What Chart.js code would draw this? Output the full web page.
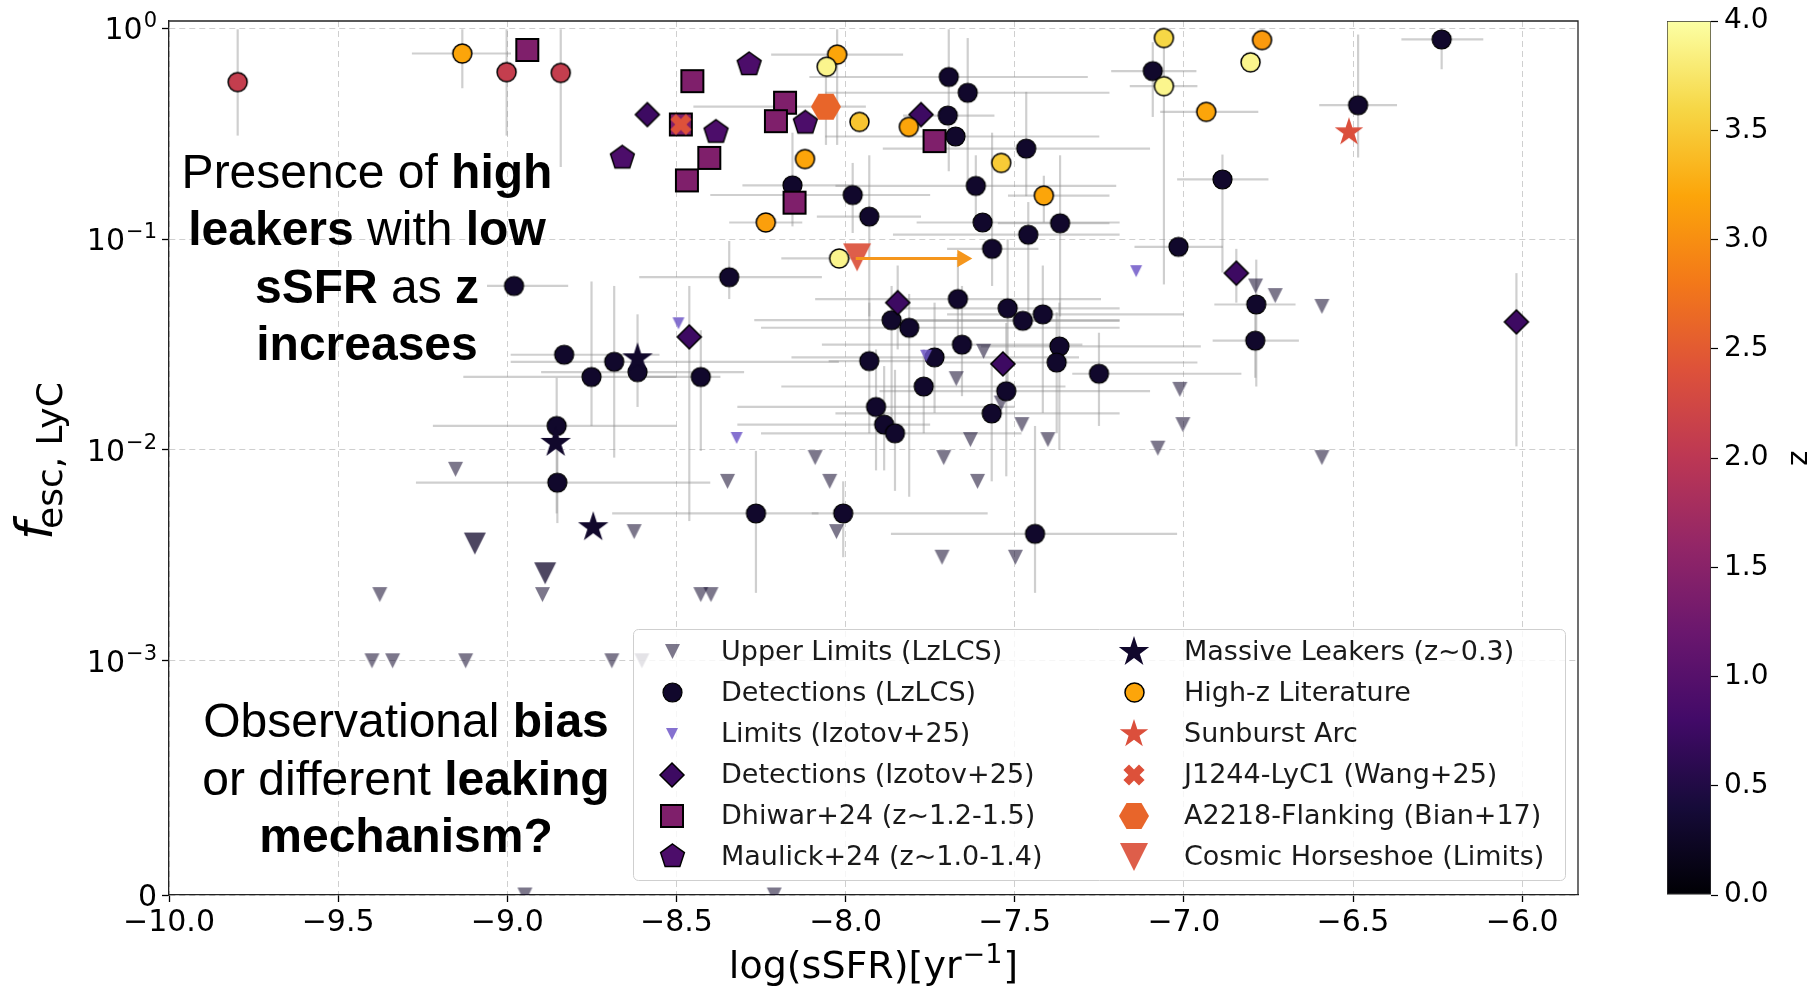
<!DOCTYPE html>
<html>
<head>
<meta charset="utf-8">
<title>fesc vs sSFR</title>
<script src="https://cdn.jsdelivr.net/npm/chart.js"></script>
<style>
  html, body { margin: 0; padding: 0; background: #fff; }
  #wrap { position: relative; width: 1816px; height: 993px; overflow: hidden; }
  canvas { position: absolute; top: 0; }
  #main { left: 0; }
  #cbar { left: 1640px; }
</style>
</head>
<body>
<div id="wrap">
  <canvas id="main" width="1816" height="993"></canvas>
  <canvas id="cbar" width="176" height="993"></canvas>
</div>
<script>
// ---------------- axis / tick values ----------------
const xTickValues = [-10, -9.5, -9, -8.5, -8, -7.5, -7, -6.5, -6];
const yTickValues = [0, 1e-3, 1e-2, 1e-1, 1];
const yTickExponents = [null, '\u22123', '\u22122', '\u22121', '0'];
const zTickValues = [0, 0.5, 1, 1.5, 2, 2.5, 3, 3.5, 4];

// ---------------- Detections (LzLCS), z ~ 0.3 ----------------
const detX = [-8.98, -8.344, -8.157, -7.979, -7.93, -7.695, -7.639, -7.698, -7.675, -7.466, -7.615, -7.366, -7.595, -7.46, -7.567, -7.668, -7.521, -7.417, -7.476, -7.864, -7.812, -7.93, -7.91, -7.886, -7.854, -7.737, -7.656, -7.769, -7.525, -7.568, -7.368, -7.376, -7.251, -7.44, -8.265, -8.007, -8.428, -8.832, -8.751, -8.684, -8.615, -8.854, -8.852, -6.886, -7.016, -7.092, -6.786, -6.789, -6.238, -6.485];
const detY = [0.060, 0.066, 0.18, 0.162, 0.128, 0.588, 0.495, 0.386, 0.307, 0.269, 0.179, 0.119, 0.12, 0.105, 0.090, 0.052, 0.047, 0.044, 0.041, 0.0413, 0.038, 0.0264, 0.016, 0.0132, 0.012, 0.0275, 0.0316, 0.02, 0.019, 0.0149, 0.031, 0.026, 0.023, 0.004, 0.005, 0.005, 0.0222, 0.0283, 0.0222, 0.0262, 0.0234, 0.013, 0.0070, 0.192, 0.092, 0.627, 0.049, 0.033, 0.886, 0.432];
const detXlo = [-9.06, -8.61, -8.305, -8.40, -8.085, -8.107, -8.06, -7.83, -8.06, -7.89, -8.03, -7.55, -7.79, -7.86, -7.70, -8.09, -7.85, -7.7, -7.8, -8.27, -8.25, -8.05, -8.32, -8.32, -8.25, -8.16, -8.07, -8.19, -7.9, -8.03, -7.6, -7.75, -7.33, -7.866, -8.69, -8.1, -8.61, -8.99, -9.13, -8.99, -8.9, -9.22, -9.27, -7.02, -7.146, -7.215, -6.91, -6.915, -6.357, -6.6];
const detXhi = [-8.82, -8.07, -7.98, -7.75, -7.777, -7.284, -7.22, -7.56, -7.25, -7.10, -7.20, -7.22, -7.19, -7.19, -7.43, -7.245, -7.19, -7.0, -7.19, -7.19, -7.19, -7.75, -7.50, -7.75, -7.48, -7.31, -7.3, -7.35, -7.1, -7.19, -6.95, -6.96, -6.83, -7.02, -8.08, -7.58, -8.37, -8.55, -8.5, -8.02, -8.3, -8.5, -8.4, -6.75, -6.885, -6.963, -6.67, -6.66, -6.115, -6.37];
const detYlo = [null, 0.052, 0.115, 0.107, 0.043, 0.21, 0.17, null, null, 0.16, 0.12, 0.043, null, 0.04, 0.06, 0.03, 0.02, 0.015, null, 0.012, 0.006, 0.012, 0.008, 0.008, 0.0064, 0.015, 0.018, 0.012, 0.0075, 0.0071, 0.01, 0.012, 0.013, 0.0021, 0.0021, 0.0031, 0.0099, null, 0.013, 0.0092, 0.016, 0.005, 0.0045, 0.0695, null, 0.38, 0.02, 0.022, 0.64, 0.244];
const detYhi = [null, 0.098, 0.32, 0.23, 0.25, 0.99, 0.9, null, null, 0.5, 0.25, 0.25, null, 0.15, 0.32, 0.085, 0.1, 0.075, null, 0.06, 0.055, 0.05, 0.03, 0.025, 0.024, 0.05, 0.06, 0.03, 0.04, 0.026, 0.05, 0.045, 0.036, 0.013, 0.0099, 0.0071, 0.037, null, 0.063, 0.06, 0.044, 0.022, 0.011, 0.252, null, 0.86, 0.08, 0.045, 1.0, 0.935];

// ---------------- Upper limits (LzLCS) ----------------
const ulX = [-9.153, -9.377, -8.896, -9.40, -9.339, -9.123, -8.691, -8.602, -8.948, -8.211, -8.625, -8.428, -8.398, -8.349, -8.09, -8.047, -8.027, -7.715, -7.498, -7.673, -7.61, -7.71, -7.631, -7.592, -7.479, -7.402, -7.54, -7.077, -7.012, -7.003, -6.788, -6.73, -6.592, -6.592];
const ulY = [0.0081, 0.00206, 0.00206, 0.001, 0.001, 0.001, 0.001, 0.001, 0, 0, 0.0041, 0.00206, 0.00206, 0.0071, 0.0092, 0.0071, 0.0041, 0.0031, 0.0031, 0.0218, 0.0071, 0.0092, 0.0112, 0.0294, 0.0132, 0.0112, 0.0167, 0.0102, 0.0194, 0.0132, 0.060, 0.054, 0.048, 0.0092];

// ---------------- Izotov+25 ----------------
const izoLimX = [-8.494, -8.322, -7.762, -7.141];
const izoLimY = [0.0399, 0.0114, 0.028, 0.0705];
const izoX = [-8.586, -7.777, -8.462, -7.846, -7.535, -6.845, -6.017];
const izoY = [0.39, 0.39, 0.0344, 0.050, 0.0256, 0.069, 0.0405];
const izoYlo = [null, null, 0.0046, 0.03, null, 0.05, 0.0104];
const izoYhi = [null, null, 0.06, 0.075, null, 0.09, 0.069];

// ---------------- Dhiwar+24 / Maulick+24 ----------------
const dhX = [-8.941, -8.487, -8.453, -8.403, -8.469, -8.179, -8.206, -8.151, -7.737];
const dhY = [0.79, 0.35, 0.562, 0.243, 0.19, 0.444, 0.363, 0.149, 0.292];
const maX = [-8.66, -8.285, -8.383, -8.119];
const maY = [0.243, 0.674, 0.322, 0.356];

// ---------------- Massive leakers (z~0.3) ----------------
const mlX = [-8.615, -8.857, -8.746];
const mlY = [0.0272, 0.0108, 0.0043];
const mlLimX = [-9.096, -8.888];
const mlLimY = [0.0036, 0.0026];

// ---------------- High-z literature ----------------
const hzX = [-9.797, -9.133, -9.002, -8.842, -8.025, -8.056, -7.959, -8.12, -8.236, -8.019, -7.813, -7.54, -7.414, -7.059, -7.059, -6.769, -6.803, -6.934];
const hzY = [0.556, 0.76, 0.62, 0.615, 0.751, 0.658, 0.36, 0.240, 0.12, 0.081, 0.341, 0.23, 0.161, 0.90, 0.532, 0.88, 0.69, 0.402];
const hzZ = [2.1, 3.2, 2.1, 2.1, 3.2, 3.9, 3.45, 3.2, 3.15, 3.9, 3.2, 3.5, 3.2, 3.6, 3.9, 3.1, 3.9, 3.2];
const hzXlo = [null, -9.282, null, null, -8.22, null, null, null, -8.344, -8.19, null, null, -7.52, null, -7.16, null, null, -7.07];
const hzXhi = [null, -8.989, null, null, -7.83, null, null, null, -8.128, -7.97, null, null, -7.22, null, -6.96, null, null, -6.78];
const hzYlo = [0.31, 0.52, 0.31, 0.22, 0.28, null, null, null, null, null, null, null, 0.12, null, 0.061, null, null, null];
const hzYhi = [0.99, 0.99, 0.99, 0.99, 0.99, null, null, null, null, null, null, null, 0.2, null, 0.9, null, null, null];

// ---------------- single objects ----------------
const sunburst = { x: -6.512, y: 0.322, z: 2.37 };
const j1244 = { x: -8.487, y: 0.35, z: 2.4 };
const a2218 = { x: -8.058, y: 0.425, z: 2.6, xlo: -8.45, xhi: -7.94, ylo: 0.28, yhi: 0.59 };
const horseshoe = { x: -7.966, y: 0.082, z: 2.38 };
const horseshoeArrowX = [-7.97, -7.655];
const horseshoeArrowY = [0.081, 0.081];

const legendLabels = [
  'Upper Limits (LzLCS)', 'Detections (LzLCS)', 'Limits (Izotov+25)',
  'Detections (Izotov+25)', 'Dhiwar+24 (z~1.2-1.5)', 'Maulick+24 (z~1.0-1.4)',
  'Massive Leakers (z~0.3)', 'High-z Literature', 'Sunburst Arc',
  'J1244-LyC1 (Wang+25)', 'A2218-Flanking (Bian+17)', 'Cosmic Horseshoe (Limits)'
];
const noteHigh = [
  [['Presence of ', 0], ['high', 1]],
  [['leakers', 1], [' with ', 0], ['low', 1]],
  [['sSFR', 1], [' as ', 0], ['z', 1]],
  [['increases', 1]]
];
const noteBias = [
  [['Observational ', 0], ['bias', 1]],
  [['or different ', 0], ['leaking', 1]],
  [['mechanism?', 1]]
];

// ---------------- helpers ----------------
const FONT = '"DejaVu Sans", sans-serif';
const infernoStops = ['#000004', '#160b39', '#420a68', '#6a176e', '#932667', '#bc3754', '#dd513a', '#f37819', '#fca50a', '#f6d746', '#fcffa4'];

function hexRgb(h) {
  return [1, 3, 5].map(i => parseInt(h.slice(i, i + 2), 16));
}
function inferno(t, alpha) {
  const n = infernoStops.length - 1;
  const p = Math.min(Math.max(t, 0), 1) * n;
  const i = Math.min(Math.floor(p), n - 1);
  const f = p - i;
  const a = hexRgb(infernoStops[i]), b = hexRgb(infernoStops[i + 1]);
  const c = a.map((v, k) => Math.round(v + (b[k] - v) * f));
  return alpha == null ? `rgb(${c.join(',')})` : `rgba(${c.join(',')},${alpha})`;
}
const zColor = (z, alpha) => inferno(z / 4, alpha);

// marker images (matplotlib-like shapes)
const markerCache = {};
function marker(shape, r, fill, edge, lw) {
  const key = [shape, r, fill, edge, lw].join('|');
  if (markerCache[key]) return markerCache[key];
  const pad = Math.ceil((lw || 0) + 2);
  const size = Math.ceil(2 * r + 2 * pad);
  const c = document.createElement('canvas');
  c.width = size; c.height = size;
  const g = c.getContext('2d');
  const cx = size / 2, cy = size / 2;
  const poly = (n, start, inner) => {
    const m = inner ? n * 2 : n;
    for (let k = 0; k < m; k++) {
      const ang = start + k * 2 * Math.PI / m;
      const rr = inner && k % 2 ? r * inner : r;
      const px = cx + rr * Math.cos(ang), py = cy + rr * Math.sin(ang);
      k ? g.lineTo(px, py) : g.moveTo(px, py);
    }
    g.closePath();
  };
  g.beginPath();
  switch (shape) {
    case 'circle': g.arc(cx, cy, r, 0, 2 * Math.PI); break;
    case 'square': g.rect(cx - r, cy - r, 2 * r, 2 * r); break;
    case 'diamond': poly(4, -Math.PI / 2); break;
    case 'pentagon': poly(5, -Math.PI / 2); break;
    case 'hexagon': poly(6, 0); break;
    case 'star': poly(5, -Math.PI / 2, 0.382); break;
    case 'tri':
      g.moveTo(cx, cy + r); g.lineTo(cx - r, cy - r); g.lineTo(cx + r, cy - r); g.closePath();
      break;
    case 'x': {
      const w = r * 0.36;
      const pts = [[-w, -r], [w, -r], [w, -w], [r, -w], [r, w], [w, w], [w, r], [-w, r], [-w, w], [-r, w], [-r, -w], [-w, -w]];
      pts.forEach(([px, py], k) => {
        const rx = (px - py) * Math.SQRT1_2, ry = (px + py) * Math.SQRT1_2;
        k ? g.lineTo(cx + rx, cy + ry) : g.moveTo(cx + rx, cy + ry);
      });
      g.closePath();
      break;
    }
  }
  g.fillStyle = fill;
  g.fill();
  if (edge && lw) { g.lineWidth = lw; g.strokeStyle = edge; g.stroke(); }
  markerCache[key] = c;
  return c;
}

const M = {
  upper: marker('tri', 7.5, zColor(0.3, 0.55)),
  det: marker('circle', 9.5, zColor(0.3), '#000', 1.2),
  izoLim: marker('tri', 6, 'rgba(112,88,200,0.85)'),
  izoDet: marker('diamond', 12, zColor(0.75), '#000', 1.5),
  dhiwar: marker('square', 11, zColor(1.4), '#000', 2),
  maulick: marker('pentagon', 12.5, zColor(0.9), '#000', 1.5),
  massive: marker('star', 16, zColor(0.3)),
  massiveLim: marker('tri', 11, zColor(0.3, 0.75)),
  highz: marker('circle', 9.5, zColor(3.2), '#000', 1.5),
  sunburst: marker('star', 15, zColor(sunburst.z)),
  j1244: marker('x', 11, zColor(j1244.z)),
  a2218: marker('hexagon', 15, zColor(a2218.z)),
  horseshoe: marker('tri', 14, zColor(horseshoe.z, 0.92))
};
const legendMarkers = [M.upper, M.det, M.izoLim, M.izoDet, M.dhiwar, M.maulick,
  M.massive, M.highz, M.sunburst, M.j1244, M.a2218, M.horseshoe];

const pts = (xs, ys) => xs.map((x, i) => ({ x, y: ys[i] }));
const errs = (n, xlo, xhi, ylo, yhi) => Array.from({ length: n }, (_, i) => ({
  xlo: xlo ? xlo[i] : null, xhi: xhi ? xhi[i] : null,
  ylo: ylo ? ylo[i] : null, yhi: yhi ? yhi[i] : null
}));
function scatterSet(label, data, style, r, err) {
  return { label, data, pointStyle: style, pointRadius: r, pointHoverRadius: r, err };
}

// ---------------- symlog y scale (linthresh 1e-3, linscale 1) ----------------
const LINTHRESH = 1e-3, LINSCALE = 1 / 0.9;
function symlog(v) {
  return v <= LINTHRESH ? (v / LINTHRESH) * LINSCALE : LINSCALE + Math.log10(v / LINTHRESH);
}
function symexp(t) {
  return t <= LINSCALE ? (t / LINSCALE) * LINTHRESH : LINTHRESH * Math.pow(10, t - LINSCALE);
}
class SymlogScale extends Chart.LinearScale {
  buildTicks() {
    this.start = this.min;
    this.end = this.max;
    return yTickValues.map(v => ({ value: v }));
  }
  getPixelForValue(value) {
    const lo = symlog(this.min), hi = symlog(this.max);
    return this.getPixelForDecimal((symlog(value) - lo) / (hi - lo));
  }
  getValueForPixel(pixel) {
    const lo = symlog(this.min), hi = symlog(this.max);
    return symexp(lo + this.getDecimalForPixel(pixel) * (hi - lo));
  }
}
SymlogScale.id = 'symlog';
SymlogScale.defaults = {};
Chart.register(SymlogScale);

// ---------------- datasets (index 0 is drawn on top) ----------------
const datasets = [
  scatterSet('J1244-LyC1 (Wang+25)', [{ x: j1244.x, y: j1244.y }], M.j1244, 11),
  {
    type: 'line', label: 'arrow', data: pts(horseshoeArrowX, horseshoeArrowY),
    borderColor: '#f5961c', borderWidth: 3, pointStyle: 'triangle', rotation: 90,
    pointRadius: [0, 10], pointBackgroundColor: '#f5961c', pointBorderWidth: 0
  },
  scatterSet('A2218-Flanking (Bian+17)', [{ x: a2218.x, y: a2218.y }], M.a2218, 15,
    [{ xlo: a2218.xlo, xhi: a2218.xhi, ylo: a2218.ylo, yhi: a2218.yhi }]),
  scatterSet('Sunburst Arc', [{ x: sunburst.x, y: sunburst.y }], M.sunburst, 15),
  scatterSet('High-z Literature', pts(hzX, hzY), hzZ.map(z => marker('circle', 9.5, zColor(z), '#000', 1.5)), 9.5,
    errs(hzX.length, hzXlo, hzXhi, hzYlo, hzYhi)),
  scatterSet('Cosmic Horseshoe (Limits)', [{ x: horseshoe.x, y: horseshoe.y }], M.horseshoe, 14),
  scatterSet('Dhiwar+24', pts(dhX, dhY), M.dhiwar, 11),
  scatterSet('Maulick+24', pts(maX, maY), M.maulick, 12.5),
  scatterSet('Detections (Izotov+25)', pts(izoX, izoY), M.izoDet, 12,
    errs(izoX.length, null, null, izoYlo, izoYhi)),
  scatterSet('Massive Leakers', pts(mlX, mlY), M.massive, 16),
  scatterSet('Limits (Izotov+25)', pts(izoLimX, izoLimY), M.izoLim, 6),
  scatterSet('Detections (LzLCS)', pts(detX, detY), M.det, 9.5,
    errs(detX.length, detXlo, detXhi, detYlo, detYhi)),
  scatterSet('Massive Leakers limits', pts(mlLimX, mlLimY), M.massiveLim, 11),
  scatterSet('Upper Limits (LzLCS)', pts(ulX, ulY), M.upper, 7.5)
];

// ---------------- plugins ----------------
const errorBars = {
  id: 'errorBars',
  beforeDatasetsDraw(chart) {
    const { ctx, chartArea: a, scales: { x, y } } = chart;
    ctx.save();
    ctx.beginPath();
    ctx.rect(a.left, a.top, a.width, a.height);
    ctx.clip();
    ctx.strokeStyle = 'rgba(140,140,140,0.42)';
    ctx.lineWidth = 2.2;
    const seg = (x1, y1, x2, y2) => { ctx.beginPath(); ctx.moveTo(x1, y1); ctx.lineTo(x2, y2); ctx.stroke(); };
    chart.data.datasets.forEach(ds => {
      if (!ds.err) return;
      ds.data.forEach((p, i) => {
        const e = ds.err[i];
        const px = x.getPixelForValue(p.x), py = y.getPixelForValue(p.y);
        if (e.xlo != null) seg(x.getPixelForValue(e.xlo), py, x.getPixelForValue(e.xhi), py);
        if (e.ylo != null) seg(px, y.getPixelForValue(e.ylo), px, y.getPixelForValue(e.yhi));
      });
    });
    ctx.restore();
  }
};

function drawRich(ctx, parts, cx, y, size) {
  const fontOf = b => (b ? 'bold ' : '') + size + 'px "Liberation Sans", Arial, sans-serif';
  let w = 0;
  parts.forEach(([t, b]) => { ctx.font = fontOf(b); w += ctx.measureText(t).width; });
  let x = cx - w / 2;
  parts.forEach(([t, b]) => {
    ctx.font = fontOf(b);
    ctx.fillText(t, x, y);
    x += ctx.measureText(t).width;
  });
}

const extras = {
  id: 'extras',
  afterDatasetsDraw(chart) {
    const { ctx, chartArea: a } = chart;
    ctx.save();
    // top and right spines
    ctx.strokeStyle = '#222';
    ctx.lineWidth = 1.3;
    ctx.beginPath();
    ctx.moveTo(a.left, a.top); ctx.lineTo(a.right, a.top); ctx.lineTo(a.right, a.bottom);
    ctx.stroke();
    // annotations
    ctx.fillStyle = '#000';
    ctx.textBaseline = 'alphabetic';
    ctx.textAlign = 'left';
    noteHigh.forEach((line, i) => drawRich(ctx, line, 367, 188 + i * 57.3, 48));
    noteBias.forEach((line, i) => drawRich(ctx, line, 406, 737 + i * 57.5, 48));
    ctx.restore();
  },
  afterDraw(chart) {
    const { ctx, chartArea: a, scales } = chart;
    ctx.save();
    // legend box
    const bx = 633.5, by = 629.5, bw = 932, bh = 251;
    ctx.beginPath();
    if (ctx.roundRect) ctx.roundRect(bx, by, bw, bh, 5); else ctx.rect(bx, by, bw, bh);
    ctx.fillStyle = 'rgba(255,255,255,0.8)';
    ctx.fill();
    ctx.strokeStyle = '#cfcfcf';
    ctx.lineWidth = 1;
    ctx.stroke();
    ctx.font = '27px ' + FONT;
    ctx.textBaseline = 'middle';
    ctx.textAlign = 'left';
    legendLabels.forEach((t, i) => {
      const col = i < 6 ? 0 : 1, row = i % 6;
      const mx = col ? 1134 : 672, tx = col ? 1184 : 721, y = 651.5 + row * 41;
      const m = legendMarkers[i];
      ctx.drawImage(m, Math.round(mx - m.width / 2), Math.round(y - m.height / 2));
      ctx.fillStyle = '#1a1a1a';
      ctx.fillText(t, tx, y + 1);
    });

    // y tick labels with real superscripts (positions from the y scale)
    ctx.fillStyle = '#000';
    ctx.textBaseline = 'alphabetic';
    ctx.textAlign = 'left';
    const right = a.left - 12;
    yTickValues.forEach((v, i) => {
      const py = scales.y.getPixelForValue(v);
      const exp = yTickExponents[i];
      const base = exp == null ? '0' : '10';
      ctx.font = '30px ' + FONT;
      const bw0 = ctx.measureText(base).width;
      ctx.font = '21px ' + FONT;
      const ew = exp == null ? 0 : ctx.measureText(exp).width + 1;
      const x0 = right - bw0 - ew;
      ctx.font = '30px ' + FONT;
      ctx.fillText(base, x0, py + 11);
      if (exp != null) {
        ctx.font = '21px ' + FONT;
        ctx.fillText(exp, x0 + bw0 + 1, py - 1);
      }
    });

    // x axis title: log(sSFR)[yr^-1]
    const cxT = (a.left + a.right) / 2, by0 = 978;
    ctx.font = '38px ' + FONT;
    const p1 = 'log(sSFR)[yr', p3 = ']';
    const w1 = ctx.measureText(p1).width, w3 = ctx.measureText(p3).width;
    ctx.font = '27px ' + FONT;
    const w2 = ctx.measureText('\u22121').width;
    let xx = cxT - (w1 + w2 + w3 + 2) / 2;
    ctx.font = '38px ' + FONT;
    ctx.fillText(p1, xx, by0);
    xx += w1 + 1;
    ctx.font = '27px ' + FONT;
    ctx.fillText('\u22121', xx, by0 - 15);
    xx += w2 + 1;
    ctx.font = '38px ' + FONT;
    ctx.fillText(p3, xx, by0);

    // y axis label: f_esc, LyC
    ctx.translate(52, 540);
    ctx.rotate(-Math.PI / 2);
    ctx.font = 'italic 51px ' + FONT;
    ctx.fillText('f', 0, 0);
    ctx.font = '36px ' + FONT;
    ctx.fillText('esc, LyC', 11, 10);
    ctx.restore();
  }
};

// ---------------- main chart ----------------
new Chart(document.getElementById('main'), {
  type: 'scatter',
  data: { datasets },
  options: {
    responsive: false,
    animation: false,
    events: [],
    layout: { padding: { top: 21, right: 238, left: 0, bottom: 0 } },
    plugins: { legend: { display: false }, tooltip: { enabled: false } },
    scales: {
      x: {
        type: 'linear', min: -10, max: -5.835,
        afterBuildTicks: s => { s.ticks = xTickValues.map(v => ({ value: v })); },
        afterFit: s => { s.height = 98; s.paddingLeft = 0; s.paddingRight = 0; },
        ticks: {
          callback: v => v.toFixed(1).replace('-', '\u2212'),
          font: { family: FONT, size: 30 }, color: '#000', padding: 3,
          maxRotation: 0, autoSkip: false
        },
        grid: { color: '#cfcfcf', lineWidth: 1, tickColor: '#000', tickLength: 7, tickWidth: 1.3 },
        border: { color: '#222', width: 1.3, dash: [6, 4] }
      },
      y: {
        type: 'symlog', min: 0, max: 1.084,
        afterFit: s => { s.width = 169; s.paddingTop = 0; s.paddingBottom = 0; },
        ticks: { callback: () => '', autoSkip: false },
        grid: { color: '#cfcfcf', lineWidth: 1, tickColor: '#000', tickLength: 7, tickWidth: 1.3 },
        border: { color: '#222', width: 1.3, dash: [6, 4] }
      }
    }
  },
  plugins: [errorBars, extras]
});

// ---------------- colorbar ----------------
new Chart(document.getElementById('cbar'), {
  type: 'bar',
  data: {
    labels: [''],
    datasets: [{
      data: [[zTickValues[0], zTickValues[zTickValues.length - 1]]],
      backgroundColor: c => {
        const area = c.chart.chartArea;
        if (!area) return '#888';
        const g = c.chart.ctx.createLinearGradient(0, area.bottom, 0, area.top);
        infernoStops.forEach((col, k) => g.addColorStop(k / (infernoStops.length - 1), col));
        return g;
      },
      borderColor: '#333', borderWidth: 1, borderSkipped: false,
      barPercentage: 1, categoryPercentage: 1
    }]
  },
  options: {
    responsive: false,
    animation: false,
    events: [],
    layout: { padding: { top: 21, bottom: 98, left: 27, right: 0 } },
    plugins: { legend: { display: false }, tooltip: { enabled: false } },
    scales: {
      x: { display: false },
      y: {
        position: 'right', min: 0, max: 4,
        afterBuildTicks: s => { s.ticks = zTickValues.map(v => ({ value: v })); },
        afterFit: s => { s.width = 105; s.paddingTop = 0; s.paddingBottom = 0; },
        ticks: { callback: v => v.toFixed(1), font: { family: FONT, size: 28 }, color: '#000', padding: 6, autoSkip: false },
        grid: { drawOnChartArea: false, tickLength: 7, tickColor: '#000', tickWidth: 1.2 },
        border: { display: false },
        title: { display: true, text: 'z', color: '#000', font: { family: FONT, size: 29 }, padding: 0 }
      }
    }
  }
});
</script>
</body>
</html>
